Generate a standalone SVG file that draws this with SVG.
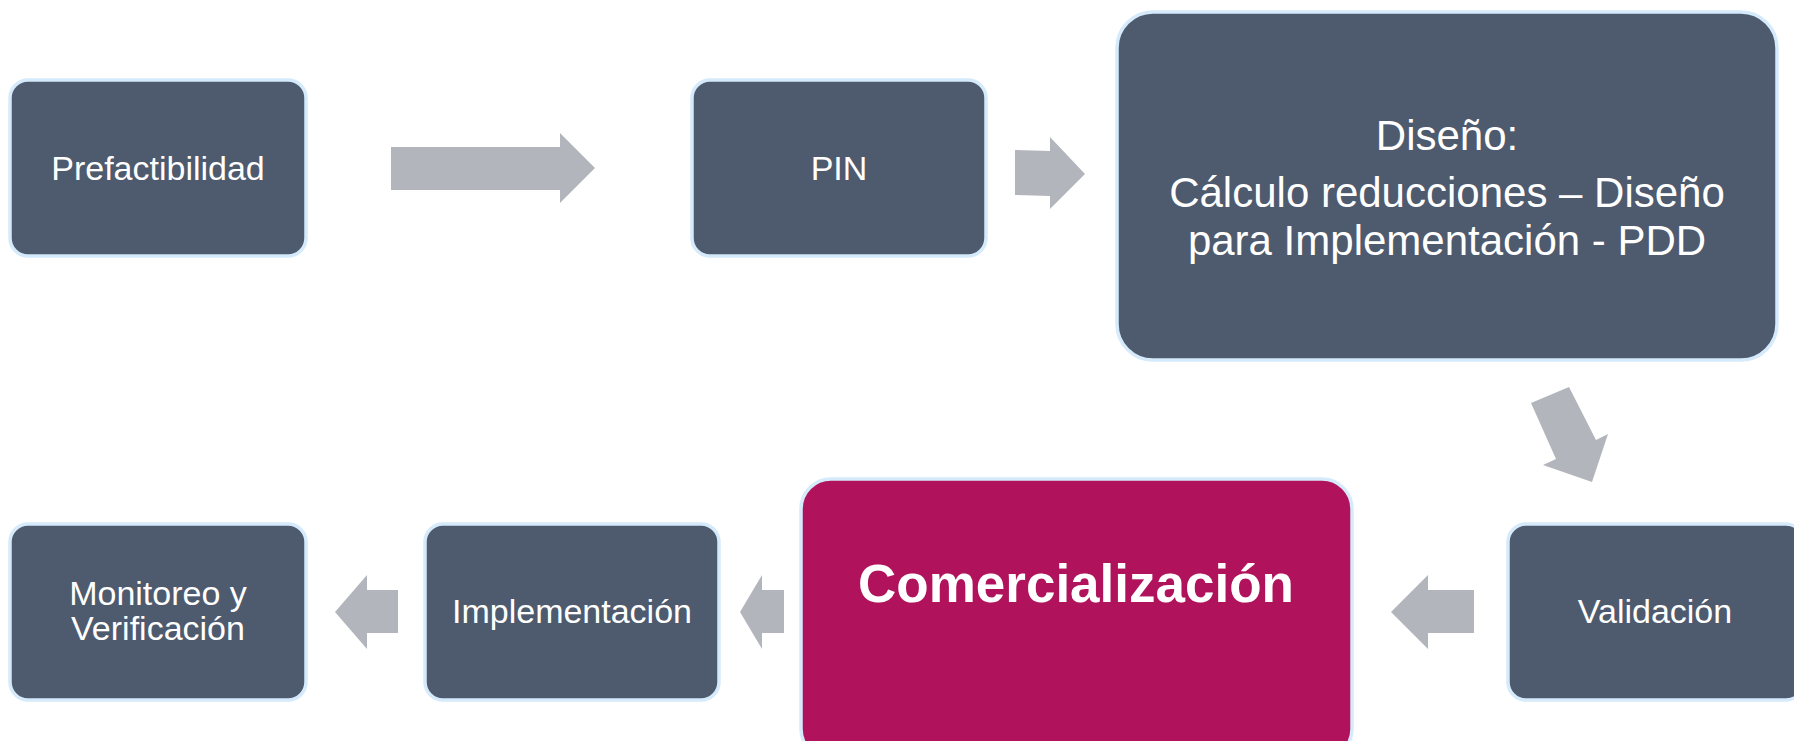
<svg xmlns="http://www.w3.org/2000/svg" width="1794" height="741" viewBox="0 0 1794 741">
<style>
.box{fill:#4E5A6E;stroke:#D5EAFB;stroke-width:3.5}
.hot{fill:#B0135B;stroke:#D5EAFB;stroke-width:3.5}
.t{fill:#FFFFFF;font-family:"Liberation Sans",Arial,sans-serif;font-size:34px;text-anchor:middle}
.tb{fill:#FFFFFF;font-family:"Liberation Sans",Arial,sans-serif;font-size:53px;font-weight:bold;text-anchor:middle}
.t42{fill:#FFFFFF;font-family:"Liberation Sans",Arial,sans-serif;font-size:42px;text-anchor:middle}
.arr{fill:#B2B5BC}
</style>
<rect width="1794" height="741" fill="#FFFFFF"/>
<g id="connectors">
<polygon class="arr" points="391,147 560,147 560,133 595,168 560,203 560,190 391,190"/>
<polygon class="arr" points="1015,150 1050,151 1050,137 1085,174 1050,209 1050,196 1015,195"/>
<polygon class="arr" points="1531,403 1569,387 1596,440 1608,434 1592,482 1543,465 1556,459"/>
<polygon class="arr" points="1391,612 1428,575 1428,590 1474,590 1474,633 1428,633 1428,649"/>
<polygon class="arr" points="740,612 762,575 762,590 784,590 784,633 762,633 762,649"/>
<polygon class="arr" points="335,612 367,575 367,590 398,590 398,633 367,633 367,649"/>
</g>
<g id="n-prefactibilidad">
<rect class="box" x="10" y="80" width="296" height="176" rx="18"/>
<text class="t" x="158" y="180">Prefactibilidad</text>
</g>
<g id="n-pin">
<rect class="box" x="692" y="80" width="294" height="176" rx="18"/>
<text class="t" x="839" y="180">PIN</text>
</g>
<g id="n-diseno">
<rect class="box" x="1117" y="12" width="660" height="348" rx="36"/>
<text class="t42" x="1447" y="150">Diseño:</text>
<text class="t42" x="1447" y="207">Cálculo reducciones – Diseño</text>
<text class="t42" x="1447" y="255">para Implementación - PDD</text>
</g>
<g id="n-validacion">
<rect class="box" x="1508" y="524" width="296" height="176" rx="18"/>
<text class="t" x="1655" y="623">Validación</text>
</g>
<g id="n-comercializacion">
<rect class="hot" x="801" y="479" width="551" height="280" rx="30"/>
<text class="tb" x="1076" y="602">Comercialización</text>
</g>
<g id="n-implementacion">
<rect class="box" x="425" y="524" width="294" height="176" rx="18"/>
<text class="t" x="572" y="623">Implementación</text>
</g>
<g id="n-monitoreo">
<rect class="box" x="10" y="524" width="296" height="176" rx="18"/>
<text class="t" x="158" y="605">Monitoreo y</text>
<text class="t" x="158" y="640">Verificación</text>
</g>
</svg>
